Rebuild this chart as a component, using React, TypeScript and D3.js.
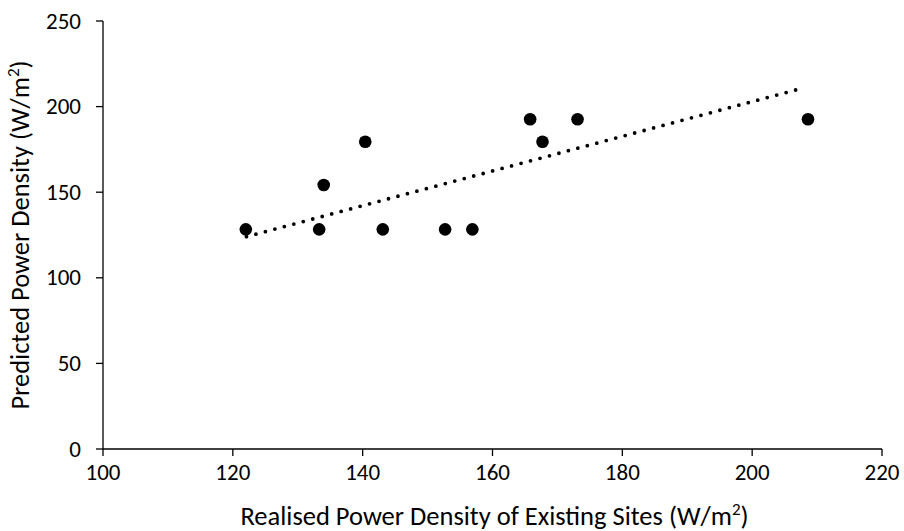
import React from "react";
import * as d3 from "d3";

const realised: number[] = [122, 133.3, 134, 140.4, 143.1, 152.7, 156.9, 165.8, 167.7, 173.1, 208.6];
const predicted: number[] = [128.3, 128.3, 154.2, 179.5, 128.3, 128.3, 128.3, 192.6, 179.5, 192.6, 192.6];
const trendX: number[] = [122.1, 207.1];
const trendY: number[] = [124, 210.1];
const xTicks: number[] = [100, 120, 140, 160, 180, 200, 220];
const yTicks: number[] = [0, 50, 100, 150, 200, 250];

const W = 904;
const H = 531;
const FONT = "Carlito, Calibri, Lato, 'Open Sans', sans-serif";

export default function App() {
  const x = d3.scaleLinear().domain([100, 220]).range([103, 882]);
  const y = d3.scaleLinear().domain([0, 250]).range([449, 21]);
  const trend = d3
    .line<number>()
    .x((d) => x(trendX[d]))
    .y((d) => y(trendY[d]))([0, 1]) as string;

  return (
    <svg
      width={W}
      height={H}
      style={{ position: "absolute", left: 0, top: 0, background: "#fff" }}
      fontFamily={FONT}
    >
      {/* axes */}
      <line x1={x(100)} x2={x(220)} y1={y(0)} y2={y(0)} stroke="#000" strokeWidth={1.3} />
      <line x1={x(100)} x2={x(100)} y1={y(0)} y2={y(250)} stroke="#000" strokeWidth={1.3} />
      {xTicks.map((t) => (
        <g key={"x" + t}>
          <line x1={x(t)} x2={x(t)} y1={y(0)} y2={y(0) + 7} stroke="#000" strokeWidth={1.3} />
          <text x={x(t)} y={y(0) + 31} textAnchor="middle" fontSize={23} fill="#000">
            {t}
          </text>
        </g>
      ))}
      {yTicks.map((t) => (
        <g key={"y" + t}>
          <line x1={x(100) - 7} x2={x(100)} y1={y(t)} y2={y(t)} stroke="#000" strokeWidth={1.3} />
          <text x={81} y={y(t) + 7.5} textAnchor="end" fontSize={23} fill="#000">
            {t}
          </text>
        </g>
      ))}
      {/* trend line */}
      <path
        d={trend}
        fill="none"
        stroke="#000"
        strokeWidth={3.8}
        strokeLinecap="round"
        strokeDasharray="0 9.8"
      />
      {/* points */}
      {realised.map((v, i) => (
        <circle key={i} cx={x(v)} cy={y(predicted[i])} r={6.3} fill="#000" />
      ))}
      {/* axis titles */}
      <text x={(x(100) + x(220)) / 2 + 2} y={525} textAnchor="middle" fontSize={26.5} fill="#000">
        Realised Power Density of Existing Sites (W/m
        <tspan fontSize={17} dy={-10}>2</tspan>
        <tspan dy={10}>)</tspan>
      </text>
      <text
        transform={`translate(29, ${(y(0) + y(250)) / 2}) rotate(-90)`}
        textAnchor="middle"
        fontSize={26.5}
        fill="#000"
      >
        Predicted Power Density (W/m
        <tspan fontSize={17} dy={-10}>2</tspan>
        <tspan dy={10}>)</tspan>
      </text>
    </svg>
  );
}
